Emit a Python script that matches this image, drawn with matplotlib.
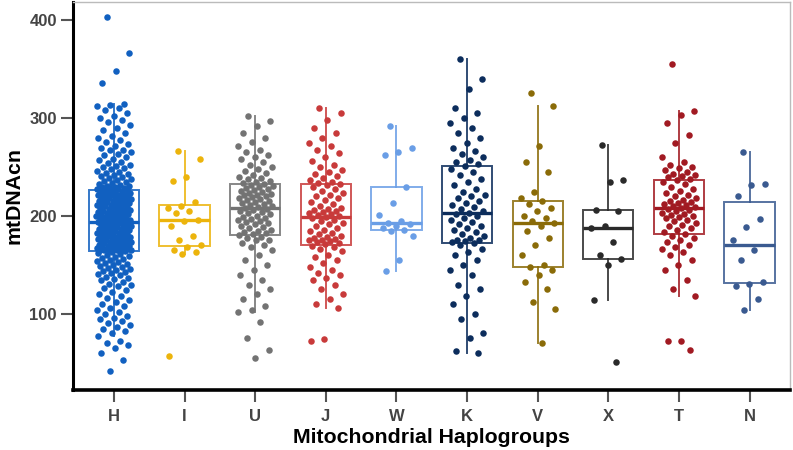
import numpy as np
import matplotlib
matplotlib.use("Agg")
import matplotlib.pyplot as plt

plt.rcParams["font.family"] = ["Liberation Sans", "DejaVu Sans"]

groups = ["H", "I", "U", "J", "W", "K", "V", "X", "T", "N"]
colors = ["#1160c0", "#ecb40c", "#737373", "#c83a3a", "#6a9ee6",
          "#0c2d5c", "#8a6b08", "#2a2a2a", "#a11a22", "#3a5a90"]

h_vals = [403, 367, 348, 336, 315, 313, 312, 310, 308, 305, 302, 300, 298, 296,
          293, 290, 288, 285, 282, 280, 278, 276, 274, 272, 270, 268, 267, 265,
          263, 262, 260, 258, 257, 255, 254, 252, 251, 250, 249, 248, 246, 245,
          244, 243, 242, 241, 240, 239, 238, 237, 236, 235, 234, 233, 232, 231,
          231, 230, 230, 229, 229, 228, 228, 227, 227,
          226, 225, 225, 224, 224, 223, 223, 222, 222, 221, 221, 220, 220, 219,
          219, 218, 218, 217, 217, 216, 216, 215, 215, 214, 214, 213, 213, 212,
          212, 211, 211, 210, 210, 209, 209, 208, 207, 207, 206, 206, 205, 205,
          204, 204, 203, 203, 202, 202, 201, 201, 200, 200, 199, 199, 198, 198,
          197, 197, 196, 196, 195, 195, 195, 194, 194,
          193, 193, 192, 192, 191, 191, 190, 190, 189, 189, 188, 188, 187, 187,
          186, 186, 185, 185, 184, 184, 183, 183, 182, 182, 181, 181, 180, 180,
          179, 179, 178, 178, 177, 177, 176, 176, 175, 175, 174, 174, 173, 173,
          172, 172, 171, 171, 170, 170, 169, 169, 168, 168, 168, 167, 167, 167,
          166, 166, 166, 165, 165, 165, 165, 165, 165,
          164, 163, 162, 161, 160, 159, 158, 157, 156, 155, 154, 153, 152, 151,
          150, 149, 148, 147, 146, 145, 144, 143, 142, 141, 140, 138, 137, 136,
          135, 133, 131, 130, 128, 126, 124, 122, 120, 118, 116, 114, 112, 110,
          108, 106, 104, 102, 100, 98, 96, 95, 93, 91, 89, 87, 85, 82, 80, 77,
          72, 70, 68, 65, 60, 53, 42]
i_vals = [266, 258, 240, 236, 214, 210, 208, 205, 203, 196, 195, 190, 180, 175,
          170, 168, 165, 163, 161, 57]
u_vals = [302, 297, 292, 285, 280, 276, 272, 268, 265, 262, 260, 258, 255, 252,
          250, 248, 246, 244, 242, 240, 239, 238, 236, 235, 234,
          233, 232, 231, 230, 229, 228, 227, 226, 225, 224, 223, 222, 221, 220,
          219, 218, 217, 216, 215, 214, 213, 212, 211, 210, 209,
          208, 207, 206, 205, 204, 203, 202, 200, 199, 198, 197, 196, 195, 194,
          193, 192, 190, 189, 188, 186, 185, 184, 183, 182, 181,
          179, 178, 176, 175, 172, 170, 168, 165, 160, 155, 150, 145, 140, 135,
          130, 125, 120, 115, 108, 104, 102, 92, 75, 63, 55]
j_vals = [310, 305, 298, 290, 285, 280, 275, 272, 268, 264, 260, 256, 252, 250,
          247, 245, 243, 241, 239, 237, 235, 234,
          233, 232, 230, 228, 226, 224, 222, 220, 218, 216, 214, 212, 210, 208,
          207, 206, 205, 204, 203, 202, 201, 200,
          199, 198, 196, 195, 193, 192, 190, 188, 186, 185, 183, 182, 180, 179,
          178, 177, 176, 175, 174, 173, 172, 171,
          169, 168, 166, 164, 160, 158, 155, 152, 148, 145, 142, 140, 137, 135,
          130, 125, 120, 115, 110, 106, 74, 72]
w_vals = [292, 270, 265, 262, 230, 213, 201, 195, 193, 192, 190, 188, 186, 185,
          180, 155, 144]
k_vals = [361, 340, 330, 310, 305, 300, 295, 290, 285, 280, 275, 270, 266, 263,
          260, 257, 255, 253, 251, 248, 245, 242, 238, 235, 232, 228, 225, 222,
          220, 218, 215, 213, 211, 209, 207, 205, 203, 202, 200, 198, 196, 194,
          192, 190, 188, 186, 184, 182, 180, 178, 176, 175, 174, 173, 172, 170,
          166, 163, 160, 155, 150, 145, 140, 130, 125, 118, 110, 100, 95, 80,
          75, 62, 60]
v_vals = [326, 312, 272, 255, 245, 225, 218, 215, 212, 208, 205, 200, 198, 195,
          193, 190, 185, 178, 170, 160, 150, 148, 145, 140, 133, 125, 112, 105, 70]
x_vals = [273, 237, 235, 206, 205, 190, 188, 173, 160, 156, 150, 114, 51]
t_vals = [355, 307, 303, 295, 283, 275, 260, 255, 252, 250, 249, 247, 245, 243,
          242, 241, 240, 238, 237, 235, 233, 230, 228, 226, 224, 222, 220, 218,
          216, 215, 214, 213, 212, 211, 210, 209, 208, 207, 206, 205, 203, 202,
          201, 200, 199, 198, 196, 195, 193, 191, 190, 188, 186, 184, 182, 180,
          178, 175, 173, 170, 168, 166, 163, 160, 155, 150, 145, 135, 125, 118,
          72, 72, 63]
n_vals = [265, 233, 232, 220, 197, 189, 175, 165, 155, 133, 131, 128, 115, 104]

data = [h_vals, i_vals, u_vals, j_vals, w_vals, k_vals, v_vals, x_vals, t_vals, n_vals]

fig = plt.figure(figsize=(7.93, 4.5), dpi=100)
ax = fig.add_axes([0.092, 0.133, 0.904, 0.863])

pos = np.arange(len(groups))
for i, (vals, c) in enumerate(zip(data, colors)):
    ax.boxplot([vals], positions=[i], widths=0.71, showfliers=False,
               whis=1.5, patch_artist=True,
               boxprops=dict(facecolor="white", edgecolor=c, linewidth=1.4, alpha=0.85),
               whiskerprops=dict(color=c, linewidth=1.4, alpha=0.85),
               capprops=dict(linewidth=0),
               medianprops=dict(color=c, linewidth=2.4))
    # deterministic jitter along x (golden-ratio sequence)
    k = np.arange(len(vals))
    jit = ((k * 0.6180339887 + 0.31) % 1.0 - 0.5) * 0.5
    ax.scatter(i + jit, vals, s=22, color=c, zorder=3, linewidths=0)

ax.set_xlim(-0.58, 9.57)
ax.set_ylim(22, 419)
ax.set_xticks(pos)
ax.set_xticklabels(groups)
ax.set_yticks([100, 200, 300, 400])

ax.tick_params(axis="both", direction="out", length=8.5, width=1.5,
               color="#555555", labelcolor="#444444", labelsize=12, pad=3)
ax.tick_params(axis="x", pad=5)
for lab in ax.get_xticklabels() + ax.get_yticklabels():
    lab.set_fontweight("bold")

ax.spines["left"].set_linewidth(2.2)
ax.spines["bottom"].set_linewidth(2.6)
ax.spines["left"].set_color("black")
ax.spines["bottom"].set_color("black")
ax.spines["top"].set_color("#bbbbbb")
ax.spines["right"].set_color("#bbbbbb")
ax.spines["top"].set_linewidth(1.0)
ax.spines["right"].set_linewidth(1.0)

ax.set_xlabel("Mitochondrial Haplogroups", fontsize=15.3, fontweight="bold", labelpad=3)
ax.set_ylabel("mtDNAcn", fontsize=15.3, fontweight="bold", labelpad=4)

fig.savefig("out.png", dpi=100)
